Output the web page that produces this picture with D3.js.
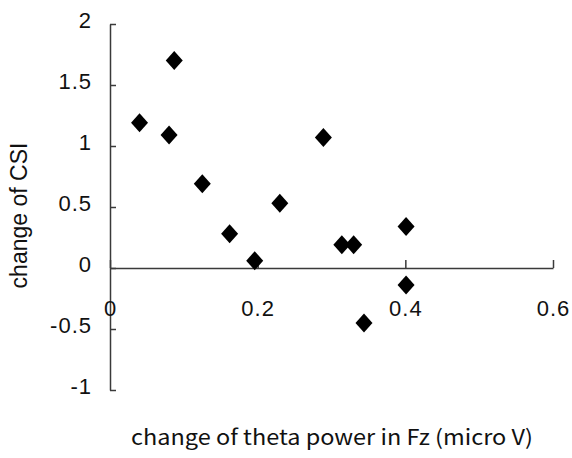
<!DOCTYPE html>
<html><head><meta charset="utf-8">
<script src="https://cdn.jsdelivr.net/npm/d3@7"></script>
<style>body{margin:0;background:#fff}svg{display:block}</style>
</head><body>
<svg id="c" width="572" height="458"></svg>
<script>
const thetaChange = [0.040, 0.087, 0.080, 0.125, 0.162, 0.196, 0.230, 0.289, 0.314, 0.330, 0.344, 0.401, 0.401];
const csiChange   = [1.19, 1.70, 1.09, 0.69, 0.28, 0.06, 0.53, 1.07, 0.19, 0.19, -0.45, 0.34, -0.14];
const xTicks = [0, 0.2, 0.4, 0.6];
const yTicks = [-1, -0.5, 0, 0.5, 1, 1.5, 2];
const xLabel = "change of theta power in Fz (micro V)";
const yLabel = "change of CSI";

const svg = d3.select("#c");
svg.append("rect").attr("width",572).attr("height",458).attr("fill","#fff");

const x = d3.scaleLinear().domain([0, 0.6]).range([110, 553]);
const y = d3.scaleLinear().domain([-1, 2]).range([390, 24]);
const axisColor = "#3a3a3a";
const tickFont = "'Liberation Sans', Arial, sans-serif";

// Y axis at x=0
const gy = svg.append("g").attr("transform", `translate(${x(0)},0)`)
  .call(d3.axisLeft(y).tickValues(yTicks).tickSizeInner(-6).tickSizeOuter(0)
        .tickFormat(d => String(d)).tickPadding(18));
gy.select(".domain").attr("stroke", axisColor).attr("stroke-width", 1.5);
gy.selectAll(".tick line").attr("stroke", axisColor).attr("stroke-width", 1.5);
gy.selectAll(".tick text").attr("font-family", tickFont).attr("font-size", 22)
  .attr("fill","#111").attr("dy","0.18em").attr("letter-spacing","1px");

// X axis at y=0
const gx = svg.append("g").attr("transform", `translate(0,${y(0)})`)
  .call(d3.axisBottom(x).tickValues(xTicks).tickSizeInner(-8).tickSizeOuter(0)
        .tickFormat(d => String(d)).tickPadding(32));
gx.select(".domain").attr("stroke", axisColor).attr("stroke-width", 1.5);
gx.selectAll(".tick line").attr("stroke", axisColor).attr("stroke-width", 1.5);
gx.selectAll(".tick text").attr("font-family", tickFont).attr("font-size", 22)
  .attr("fill","#111").attr("dy","0.71em").attr("letter-spacing","1px");

// Diamond markers
const diamond = { draw(ctx, size) { const w = 8.5, h = 9.5;
  ctx.moveTo(0,-h); ctx.lineTo(w,0); ctx.lineTo(0,h); ctx.lineTo(-w,0); ctx.closePath(); } };
svg.append("g").selectAll("path").data(thetaChange.map((v,i)=>[v, csiChange[i]]))
  .join("path")
  .attr("d", d3.symbol().type(diamond))
  .attr("transform", d => `translate(${x(d[0])},${y(d[1])})`)
  .attr("fill", "#000");

// Axis titles
svg.append("text").attr("transform", "translate(27,215.5) rotate(-90)")
  .attr("text-anchor","middle").attr("font-family", tickFont).attr("font-size", 23)
  .attr("fill","#111").text(yLabel);
svg.append("text").attr("x", 131).attr("y", 445)
  .attr("font-family", "'Noto Sans CJK JP', sans-serif").attr("font-size", 21)
  .attr("fill","#111").attr("textLength", 402).attr("lengthAdjust","spacingAndGlyphs")
  .text(xLabel);
</script>
</body></html>
